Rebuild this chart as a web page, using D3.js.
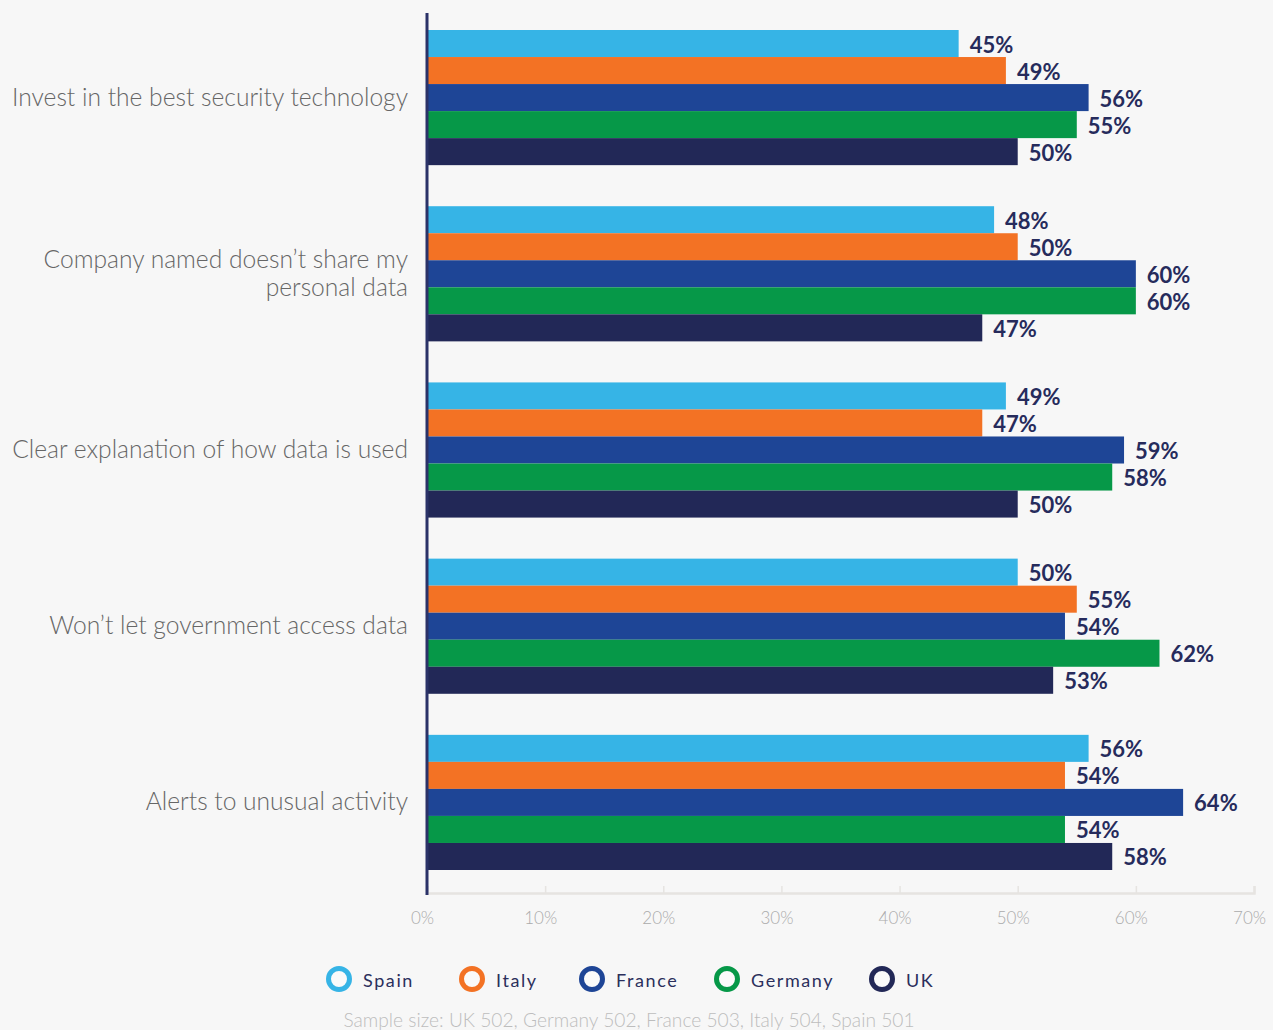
<!DOCTYPE html>
<html>
<head>
<meta charset="utf-8">
<script src="https://cdn.jsdelivr.net/npm/d3@7"></script>
<style>
  html, body { margin: 0; padding: 0; background: #f7f7f7; }
  svg { display: block; }
</style>
</head>
<body>
<svg id="chart" width="1273" height="1030"></svg>
<script>
// Survey answers: what would make people trust a company with their data
const categories = [
  "Invest in the best security technology",
  "Company named doesn’t share my personal data",
  "Clear explanation of how data is used",
  "Won’t let government access data",
  "Alerts to unusual activity"
];
const series = ["Spain", "Italy", "France", "Germany", "UK"];
const spain   = [45, 48, 49, 50, 56];
const italy   = [49, 50, 47, 55, 54];
const france  = [56, 60, 59, 54, 64];
const germany = [55, 60, 58, 62, 54];
const uk      = [50, 47, 50, 53, 58];
const xTicks = [0, 10, 20, 30, 40, 50, 60, 70];
const note = "Sample size: UK 502, Germany 502, France 503, Italy 504, Spain 501";

const values = { Spain: spain, Italy: italy, France: france, Germany: germany, UK: uk };
const colors = { Spain: "#36b4e6", Italy: "#f37224", France: "#1e4596", Germany: "#069848", UK: "#222857" };

const svg = d3.select("#chart");

const x = d3.scaleLinear().domain([0, 70]).range([427, 1254]);
const y = d3.scaleBand().domain(categories).range([30, 870]).paddingInner(0.233);
const yInner = d3.scaleBand().domain(series).range([0, y.bandwidth()]);

// x axis: light baseline with short ticks and grey percentage labels
const xAxis = d3.axisBottom(x)
  .tickValues(xTicks)
  .tickFormat(d => d + "%")
  .tickSize(-7)
  .tickPadding(19);
const gx = svg.append("g").attr("transform", "translate(0,893)").call(xAxis);
gx.select(".domain").attr("stroke", "#e6e4e1").attr("stroke-width", 2.5);
gx.selectAll(".tick line").attr("stroke", "#e6e4e1").attr("stroke-width", 1.5);
gx.selectAll(".tick text")
  .attr("fill", "#ababab")
  .attr("font-family", "Lato, 'Open Sans', sans-serif")
  .attr("font-weight", 300)
  .attr("font-size", 17)
  .attr("dx", -5);

// grouped bars
const groups = svg.append("g").selectAll("g")
  .data(categories)
  .join("g")
  .attr("transform", d => `translate(0,${y(d)})`);

const rows = (c, i) => series.map(s => ({ s, v: values[s][i] }));

groups.selectAll("rect")
  .data((c, i) => rows(c, i))
  .join("rect")
  .attr("x", x(0))
  .attr("y", d => yInner(d.s))
  .attr("width", d => x(d.v) - x(0))
  .attr("height", yInner.bandwidth())
  .attr("fill", d => colors[d.s]);

groups.selectAll("text.val")
  .data((c, i) => rows(c, i))
  .join("text")
  .attr("class", "val")
  .attr("x", d => x(d.v) + 11)
  .attr("y", d => yInner(d.s) + yInner.bandwidth() / 2 + 9)
  .attr("fill", "#262b5c")
  .attr("font-family", "Lato, 'Open Sans', sans-serif")
  .attr("font-weight", 700)
  .attr("font-size", 22)
  .text(d => d.v + "%");

// vertical axis line
svg.append("line")
  .attr("x1", 427).attr("x2", 427)
  .attr("y1", 13).attr("y2", 895)
  .attr("stroke", "#2b3268").attr("stroke-width", 3);

// category labels, wrapped where needed
const wrap = {
  "Company named doesn’t share my personal data": ["Company named doesn’t share my", "personal data"]
};
const catLabels = svg.append("g").selectAll("text")
  .data(categories)
  .join("text")
  .attr("x", 408)
  .attr("y", d => y(d) + y.bandwidth() / 2)
  .attr("text-anchor", "end")
  .attr("fill", "#666666")
  .attr("font-family", "Lato, 'Open Sans', sans-serif")
  .attr("font-weight", 300)
  .attr("font-size", 24.6);
catLabels.each(function (d) {
  const lines = wrap[d] || [d];
  const t = d3.select(this);
  const lh = 28;
  lines.forEach((ln, k) => {
    t.append("tspan")
      .attr("x", 408)
      .attr("y", y(d) + y.bandwidth() / 2 + 8 + (k - (lines.length - 1) / 2) * lh)
      .text(ln);
  });
});

// legend
const legendX = [339, 472, 592, 727, 882];
const legend = svg.append("g").selectAll("g")
  .data(series)
  .join("g")
  .attr("transform", (d, i) => `translate(${legendX[i]},979)`);
legend.append("circle")
  .attr("r", 10.5)
  .attr("fill", "#fafafa")
  .attr("stroke", d => colors[d])
  .attr("stroke-width", 5);
legend.append("text")
  .attr("x", 24)
  .attr("y", 8)
  .attr("fill", "#2b2f5c")
  .attr("font-family", "Lato, 'Open Sans', sans-serif")
  .attr("font-size", 18)
  .attr("letter-spacing", 1.6)
  .text(d => d);

svg.append("text")
  .attr("x", 629)
  .attr("y", 1027)
  .attr("text-anchor", "middle")
  .attr("fill", "#bdbdbd")
  .attr("font-family", "Lato, 'Open Sans', sans-serif")
  .attr("font-weight", 300)
  .attr("font-size", 19.2)
  .text(note);
</script>
</body>
</html>
